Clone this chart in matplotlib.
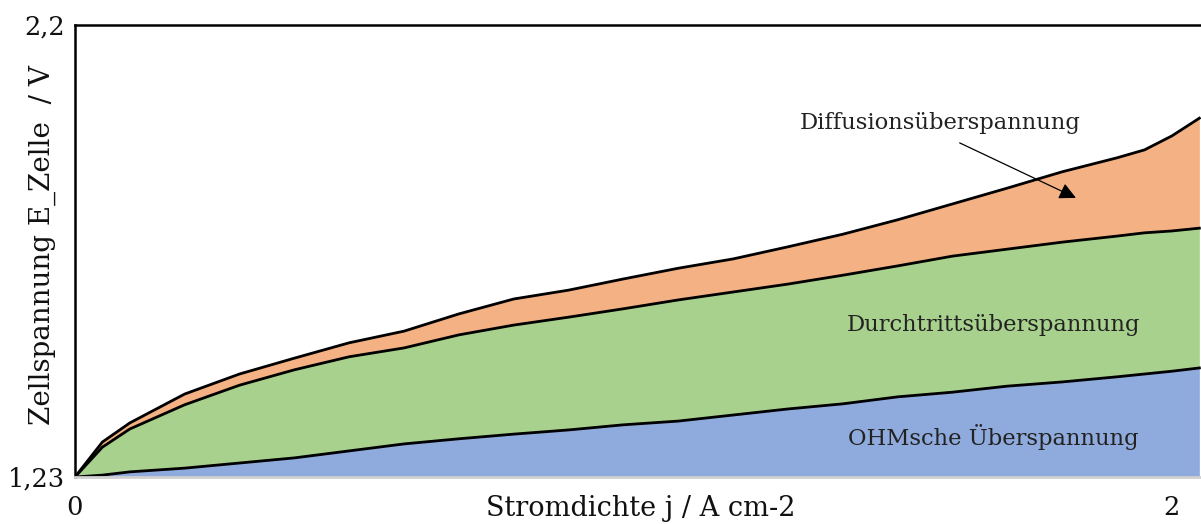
import numpy as np
import matplotlib.pyplot as plt

# Stromdichte j / A cm-2
j = [0, 0.05, 0.1, 0.2, 0.3, 0.4, 0.5, 0.6, 0.7, 0.8, 0.9, 1.0,
     1.1, 1.2, 1.3, 1.4, 1.5, 1.6, 1.7, 1.8, 1.9, 1.95, 2.0, 2.05]

E_rev = 1.23

# overpotentials in V
ohm = [0, 0.004, 0.011, 0.019, 0.030, 0.041, 0.056, 0.071, 0.082, 0.092,
       0.101, 0.112, 0.120, 0.133, 0.146, 0.157, 0.172, 0.182, 0.195,
       0.204, 0.215, 0.221, 0.227, 0.234]
durchtritt = [0, 0.060, 0.092, 0.136, 0.167, 0.189, 0.202, 0.206, 0.223,
              0.234, 0.242, 0.249, 0.260, 0.264, 0.268, 0.276, 0.281,
              0.292, 0.294, 0.300, 0.302, 0.303, 0.301, 0.300]
diffusion = [0, 0.011, 0.013, 0.023, 0.024, 0.025, 0.030, 0.036, 0.045,
             0.056, 0.058, 0.064, 0.068, 0.071, 0.080, 0.088, 0.099,
             0.112, 0.131, 0.151, 0.168, 0.178, 0.204, 0.236]

labels = ['OHMsche Überspannung', 'Durchtrittsüberspannung', 'Diffusionsüberspannung']
colors = ['#8faadc', '#a9d18e', '#f4b183']

plt.rcParams['font.family'] = ['DejaVu Serif']

fig = plt.figure(figsize=(12.01, 5.24), dpi=100)
ax = fig.add_axes([0.0624, 0.0897, 0.9376, 0.8626])

x = np.array(j)
y1 = E_rev + np.array(ohm)
y2 = y1 + np.array(durchtritt)
y3 = y2 + np.array(diffusion)

ax.fill_between(x, E_rev, y1, color=colors[0], lw=0)
ax.fill_between(x, y1, y2, color=colors[1], lw=0)
ax.fill_between(x, y2, y3, color=colors[2], lw=0)
for yy in (y1, y2, y3):
    ax.plot(x, yy, color='black', lw=2, solid_joinstyle='round')

ax.set_xlim(0, 2.053)
ax.set_ylim(1.23, 2.2)
ax.set_xticks([0, 2])
ax.set_xticklabels(['0', '2'])
ax.set_yticks([1.23, 2.2])
ax.set_yticklabels(['1,23', '2,2'])
ax.tick_params(length=0, labelsize=18.5, labelcolor='#111111')
ax.tick_params(axis='x', pad=13)
ax.tick_params(axis='y', pad=7)

ax.spines['right'].set_visible(False)
ax.spines['top'].set_linewidth(1.8)
ax.spines['left'].set_linewidth(1.8)
ax.spines['bottom'].set_color('#d0d0d0')
ax.spines['bottom'].set_linewidth(2)

ax.set_xlabel('Stromdichte j / A cm-2', fontsize=19.5, color='#111111')
ax.xaxis.label.set_verticalalignment('center')
ax.xaxis.set_label_coords(0.502, -0.069)
ax.set_ylabel('Zellspannung E_Zelle  / V', fontsize=20, color='#111111')
ax.yaxis.label.set_verticalalignment('center')
ax.yaxis.set_label_coords(-0.0293, 0.513)

ax.text(1.577, 1.990, labels[2], fontsize=16.3, ha='center', va='center', color='#222222')
ax.text(1.674, 1.556, labels[1], fontsize=16.3, ha='center', va='center', color='#222222')
ax.text(1.674, 1.316, labels[0], fontsize=16.3, ha='center', va='center', color='#222222')
ax.annotate('', xy=(1.825, 1.829), xytext=(1.613, 1.947),
            arrowprops=dict(arrowstyle='-|>', color='black', lw=0.9,
                            mutation_scale=25, shrinkA=0, shrinkB=0))

fig.savefig('out.png', dpi=100)
